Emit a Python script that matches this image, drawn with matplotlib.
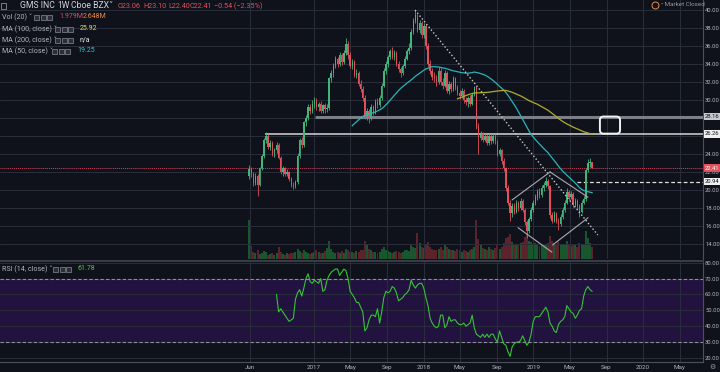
import matplotlib
matplotlib.use("Agg")
import matplotlib.pyplot as plt
import matplotlib.dates as mdates
from matplotlib.patches import FancyBboxPatch, Rectangle
from matplotlib.lines import Line2D
import numpy as np
import pandas as pd

plt.rcParams['font.family'] = ['Roboto', 'DejaVu Sans']

W, H = 720, 372
BG = '#0f121b'
GRID = '#2a2e3a'
TXT = '#b2b5be'
UP = '#41b57c'
DN = '#e0505d'

# weekly candles, GMS INC, Cboe BZX
dates = pd.date_range('2016-05-30', periods=164, freq='7D')

opens = [21.5, 22.3, 21.8, 20.8, 21.6, 20.6, 22.4, 23.8, 25.6, 26.0,
         24.8, 25.2, 24.0, 24.4, 25.0, 23.6, 22.0, 22.4, 21.8, 22.0,
         21.2, 20.6, 20.4, 20.9, 23.8, 25.6, 25.0, 27.5, 28.0, 29.2,
         28.8, 29.6, 29.9, 29.2, 29.5, 28.8, 29.4, 29.0, 29.1, 32.4,
         33.0, 33.8, 34.6, 34.0, 35.0, 34.2, 35.2, 36.2, 35.0, 33.8,
         34.2, 32.8, 33.0, 31.8, 31.2, 30.2, 28.2, 28.8, 28.0, 29.2,
         28.6, 29.8, 29.4, 30.2, 31.6, 33.2, 34.0, 34.8, 35.4, 34.8,
         35.2, 34.0, 33.4, 33.0, 33.8, 34.6, 35.4, 35.8, 37.6, 38.8,
         39.4, 37.8, 38.6, 37.2, 38.2, 36.0, 34.0, 33.2, 32.6, 32.4,
         32.0, 33.2, 32.0, 31.6, 33.0, 31.0, 31.8, 31.2, 32.4, 31.4,
         30.8, 30.4, 31.0, 30.0, 29.8, 30.2, 29.6, 30.6, 31.4, 27.0,
         25.8, 26.2, 25.6, 26.0, 25.2, 26.0, 25.4, 26.0, 25.4, 24.0,
         24.4, 23.2, 22.4, 20.2, 18.6, 17.4, 18.2, 17.6, 18.6, 18.0,
         18.8, 17.8, 16.4, 15.4, 16.8, 17.8, 18.6, 19.2, 19.8, 19.4,
         20.2, 20.6, 21.0, 20.4, 17.2, 16.6, 17.4, 16.6, 16.2, 17.0,
         17.8, 18.6, 19.8, 19.2, 19.6, 18.4, 18.8, 18.2, 17.6, 18.6,
         19.0, 22.2, 23.0, 23.06]
highs = [22.8, 22.6, 22.0, 21.9, 21.8, 22.6, 24.0, 25.8, 26.4, 26.2,
         25.5, 25.4, 24.7, 25.3, 25.2, 23.8, 22.7, 22.6, 22.3, 22.1,
         21.4, 20.9, 21.1, 24.1, 25.8, 25.9, 27.7, 28.3, 29.5, 29.6,
         30.0, 30.3, 30.2, 29.8, 29.9, 29.6, 29.7, 29.5, 32.6, 33.3,
         34.1, 34.9, 34.8, 35.3, 35.2, 35.5, 36.9, 36.5, 35.3, 34.5,
         34.4, 33.4, 33.2, 32.2, 31.6, 30.5, 29.1, 29.0, 29.5, 29.4,
         30.1, 30.2, 30.5, 31.9, 33.5, 34.3, 35.0, 35.7, 35.9, 35.5,
         35.4, 34.3, 33.7, 34.0, 34.9, 35.7, 36.3, 37.9, 39.1, 40.0,
         39.6, 38.9, 38.8, 38.5, 38.4, 36.3, 34.4, 33.6, 33.1, 32.8,
         33.7, 33.5, 32.4, 33.3, 33.2, 32.1, 32.0, 32.7, 32.6, 31.7,
         31.1, 31.3, 31.2, 30.3, 30.4, 30.5, 30.8, 31.6, 31.6, 27.4,
         26.5, 26.4, 26.3, 26.2, 26.3, 26.2, 26.2, 26.2, 25.6, 24.7,
         24.6, 23.5, 22.6, 20.5, 18.9, 18.5, 18.5, 18.9, 18.8, 19.1,
         19.0, 18.0, 16.7, 17.0, 18.1, 18.9, 19.5, 20.1, 20.2, 20.5,
         20.9, 21.4, 21.2, 20.6, 17.6, 17.7, 17.6, 16.9, 17.3, 18.1,
         18.9, 20.2, 20.0, 19.9, 19.8, 19.1, 19.0, 18.4, 18.9, 19.3,
         22.4, 23.4, 23.5, 23.10]
lows = [21.2, 21.4, 20.4, 20.5, 19.3, 20.4, 22.2, 23.6, 25.2, 24.6,
        24.4, 23.8, 23.7, 24.1, 23.4, 21.8, 21.6, 21.5, 21.5, 21.0,
        20.3, 20.1, 20.2, 20.7, 23.5, 24.7, 24.8, 27.1, 27.8, 28.4,
        28.6, 29.1, 28.9, 28.8, 28.6, 28.5, 28.6, 28.7, 28.9, 32.0,
        32.6, 33.5, 33.7, 33.8, 33.9, 34.0, 35.0, 34.6, 33.5, 33.4,
        32.5, 32.4, 31.5, 30.9, 29.9, 27.9, 27.8, 27.4, 27.8, 28.3,
        28.4, 29.1, 29.2, 30.0, 31.4, 32.9, 33.7, 34.5, 34.5, 34.4,
        33.8, 33.1, 32.6, 32.8, 33.6, 34.4, 35.1, 35.6, 37.3, 38.5,
        37.5, 37.4, 36.9, 36.9, 35.7, 33.8, 32.9, 32.2, 32.0, 31.6,
        31.8, 31.7, 31.2, 31.4, 30.8, 30.7, 30.9, 31.0, 31.1, 30.5,
        30.1, 30.2, 29.7, 29.4, 29.2, 29.3, 29.4, 30.4, 26.8, 24.0,
        25.5, 25.3, 25.4, 25.0, 25.0, 25.1, 25.2, 25.1, 23.8, 23.8,
        22.9, 22.1, 19.9, 18.3, 16.6, 17.0, 17.3, 17.4, 17.7, 17.8,
        17.5, 16.1, 14.7, 15.2, 16.6, 17.5, 18.3, 18.9, 19.1, 19.2,
        19.9, 20.3, 20.1, 16.9, 16.3, 16.4, 16.3, 15.6, 16.0, 16.8,
        17.6, 18.4, 18.9, 19.0, 18.1, 18.2, 17.9, 17.0, 17.4, 18.4,
        18.8, 22.0, 22.6, 22.40]
closes = [22.3, 21.8, 20.8, 21.6, 20.6, 22.4, 23.8, 25.6, 26.0, 24.8,
          25.2, 24.0, 24.4, 25.0, 23.6, 22.0, 22.4, 21.8, 22.0, 21.2,
          20.6, 20.4, 20.9, 23.8, 25.6, 25.0, 27.5, 28.0, 29.2, 28.8,
          29.6, 29.9, 29.2, 29.5, 28.8, 29.4, 29.0, 29.1, 32.4, 33.0,
          33.8, 34.6, 34.0, 35.0, 34.2, 35.2, 36.2, 35.0, 33.8, 34.2,
          32.8, 33.0, 31.8, 31.2, 30.2, 28.2, 28.8, 28.0, 29.2, 28.6,
          29.8, 29.4, 30.2, 31.6, 33.2, 34.0, 34.8, 35.4, 34.8, 35.2,
          34.0, 33.4, 33.0, 33.8, 34.6, 35.4, 35.8, 37.6, 38.8, 39.4,
          37.8, 38.6, 37.2, 38.2, 36.0, 34.0, 33.2, 32.6, 32.4, 32.0,
          33.2, 32.0, 31.6, 33.0, 31.0, 31.8, 31.2, 32.4, 31.4, 30.8,
          30.4, 31.0, 30.0, 29.8, 30.2, 29.6, 30.6, 31.4, 27.0, 25.8,
          26.2, 25.6, 26.0, 25.2, 26.0, 25.4, 26.0, 25.4, 24.0, 24.4,
          23.2, 22.4, 20.2, 18.6, 17.4, 18.2, 17.6, 18.6, 18.0, 18.8,
          17.8, 16.4, 15.4, 16.8, 17.8, 18.6, 19.2, 19.8, 19.4, 20.2,
          20.6, 21.0, 20.4, 17.2, 16.6, 17.4, 16.6, 16.2, 17.0, 17.8,
          18.6, 19.8, 19.2, 19.6, 18.4, 18.8, 18.2, 17.6, 18.6, 19.0,
          22.2, 23.0, 23.1, 22.41]
# volume, millions of shares
volumes = [6.4, 2.1, 1.2, 0.9, 1.4, 0.8, 1.0, 1.3, 1.1, 0.7, 0.8, 0.9, 0.6, 1.0, 1.9, 1.2, 0.8, 0.7, 0.9, 0.8,
           1.0, 0.9, 1.1, 1.6, 1.3, 1.0, 1.4, 1.2, 0.9, 0.8, 1.0, 1.2, 1.5, 1.1, 0.9, 1.0, 1.3, 1.8, 2.9, 1.6,
           1.2, 1.0, 1.1, 0.9, 1.3, 1.0, 1.6, 1.4, 1.2, 1.1, 1.0, 1.3, 1.2, 1.5, 1.4, 3.0, 2.2, 1.6, 1.4, 1.2,
           1.1, 1.0, 1.2, 1.6, 1.9, 1.4, 1.3, 1.2, 1.0, 1.1, 1.3, 1.2, 1.0, 1.1, 1.4, 1.5, 1.3, 2.4, 2.0, 1.8,
           4.2, 2.6, 2.0, 1.8, 2.2, 2.8, 1.9, 1.7, 1.5, 1.4, 1.6, 1.9, 1.5, 2.4, 2.0, 1.6, 1.4, 1.5, 1.3, 1.6,
           1.4, 1.2, 1.5, 1.3, 1.2, 1.4, 1.6, 1.9, 6.3, 3.2, 2.2, 1.8, 1.7, 1.5, 1.9, 1.6, 1.4, 1.8, 2.4, 1.7,
           2.0, 2.6, 3.4, 3.6, 4.1, 2.8, 2.5, 2.4, 2.2, 2.6, 2.8, 3.6, 4.0, 2.9, 2.7, 2.4, 2.6, 2.3, 2.1, 2.5,
           2.2, 2.4, 2.6, 3.8, 3.0, 2.6, 2.3, 2.8, 2.4, 2.2, 2.5, 2.9, 2.3, 2.1, 2.4, 2.2, 2.0, 2.6, 2.3, 2.2,
           4.6, 3.4, 2.6, 1.979]
# RSI(14) from week 13 onward
rsi_vals = [60, 49, 51, 49, 47, 45, 43, 44, 45, 57, 61, 63, 59, 64, 70, 73, 68, 67, 69, 68,
            67, 70, 62, 63, 69, 72, 74, 75, 76, 76, 72, 74, 76, 75, 70, 62, 60, 58, 55, 55,
            52, 49, 37, 39, 44, 47, 47, 46, 51, 42, 49, 58, 62, 61, 62, 65, 64, 61, 56, 57,
            58, 60, 61, 63, 69, 66, 64, 66, 67, 67, 64, 58, 53, 45, 42, 40, 39, 40, 47, 47,
            39, 41, 46, 43, 44, 44, 42, 41, 41, 42, 40, 41, 42, 47, 39, 35, 34, 33, 35, 33,
            35, 33, 35, 35, 32, 30, 37, 33, 29, 28, 24, 21, 27, 29, 30, 30, 31, 34, 31, 28,
            30, 35, 43, 46, 46, 46, 48, 50, 52, 49, 42, 40, 37, 36, 41, 43, 44, 46, 53, 51,
            49, 48, 45, 47, 50, 51, 59, 63, 65, 63, 62]

# drawings on the chart
trend_line = [('2017-12-03', 40.0), ('2019-08-03', 15.0)]
diamond_lines = [[('2018-10-22', 18.9), ('2019-02-25', 22.0)],
                 [('2019-02-25', 22.0), ('2019-07-01', 19.2)],
                 [('2018-11-11', 15.8), ('2019-03-03', 13.1)],
                 [('2019-03-06', 13.9), ('2019-07-01', 16.9)]]
level_grey = ('2017-01-04', 28.16)
level_white = ('2016-07-22', 26.26)
level_dashed = ('2019-05-25', 20.94)
last_price = 22.41
box_span = ('2019-08-10', '2019-10-16', 26.26, 28.16)

price_ticks = [14, 16, 18, 20, 22, 24, 30, 32, 34, 36, 38, 40]
rsi_ticks = [20, 30, 40, 50, 60, 70, 80]
tick_dates = ['2016-06-01', '2017-01-01', '2017-05-01', '2017-09-01', '2018-01-01', '2018-05-01',
              '2018-09-01', '2019-01-01', '2019-05-01', '2019-09-01', '2020-01-01', '2020-05-01']
tick_labels = ['Jun', '2017', 'May', 'Sep', '2018', 'May', 'Sep', '2019', 'May', 'Sep', '2020', 'May']

d2n = lambda s: mdates.date2num(pd.Timestamp(s))
x = mdates.date2num(dates)
o = np.array(opens); h = np.array(highs); l = np.array(lows); c = np.array(closes)
ma50 = pd.Series(closes).rolling(50).mean()
ma100 = pd.Series(closes).rolling(100).mean()

fig = plt.figure(figsize=(7.2, 3.72), dpi=100, facecolor=BG)

def fx(px):
    return px / W

def fy(py):
    return 1 - py / H

# volume underlay sits in its own axes behind the price axes
axv = fig.add_axes([0, fy(259), fx(703), 259 / H])
ax = fig.add_axes([0, fy(259), fx(703), 259 / H], sharex=axv)
axr = fig.add_axes([0, fy(362), fx(703), 101 / H])
xl = (d2n('2017-01-01') - 1045, d2n('2017-01-01') + 1294)
tx = [d2n(t) for t in tick_dates]

axv.set_facecolor(BG)
axv.set_ylim(0, 42)
for s in axv.spines.values():
    s.set_visible(False)
axv.set_xticks([]); axv.set_yticks([])
vcol = ['#1c5e30' if cc >= oo else '#66252f' for oo, cc in zip(opens, closes)]
axv.bar(x, volumes, width=6.6, color=vcol, alpha=0.9, zorder=1)

for a in (ax, axr):
    a.set_xlim(*xl)
    a.set_xticks(tx)
    a.grid(True, color=GRID, lw=0.7)
    a.set_axisbelow(True)
    for s in a.spines.values():
        s.set_visible(False)
    a.spines['right'].set_visible(True)
    a.spines['right'].set_color('#4c505c')
    a.yaxis.tick_right()
    a.tick_params(axis='y', length=0, pad=1.5, labelsize=4.2, labelcolor=TXT)

ax.patch.set_visible(False)
axr.set_facecolor(BG)
ax.set_ylim(12.33, 41.11)
ax.set_yticks(price_ticks)
ax.set_yticklabels(['%.2f' % v for v in price_ticks])
# grid rows hidden behind the level tags still get their line
for v in (26, 28):
    ax.axhline(v, color=GRID, lw=0.7, zorder=0)
ax.tick_params(axis='x', length=0, labelbottom=False)

# candles
col = [UP if cc >= oo else DN for oo, cc in zip(opens, closes)]
ax.vlines(x, l, h, colors=col, lw=0.6, zorder=3)
body = np.maximum(np.abs(c - o), 0.12)
ax.bar(x, body, bottom=np.minimum(o, c), width=4.8, color=col, zorder=4)

ax.plot(x, ma50, color='#27b5b8', lw=0.9, zorder=5)
ax.plot(x, ma100, color='#b0ad2a', lw=0.9, zorder=5)

# levels
ax.hlines(level_grey[1], d2n(level_grey[0]), xl[1], color='#7c7f88', lw=2.2, zorder=2)
ax.hlines(level_white[1], d2n(level_white[0]), xl[1], color='#d6d6d6', lw=1.1, zorder=2)
ax.hlines(level_dashed[1], d2n(level_dashed[0]), xl[1], color='#e0e0e0', lw=0.9,
          linestyles=(0, (3, 2)), zorder=2)
ax.axhline(last_price, color='#d2435a', lw=0.7, ls=(0, (1, 1)), zorder=2)

ax.plot([d2n(p[0]) for p in trend_line], [p[1] for p in trend_line],
        color='#c9c9c9', lw=1.0, ls=(0, (1, 1.6)), zorder=6)
for seg in diamond_lines:
    ax.plot([d2n(p[0]) for p in seg], [p[1] for p in seg], color='#a9aab0', lw=0.8, zorder=6)

bx0, bx1 = d2n(box_span[0]), d2n(box_span[1])
ax.add_patch(FancyBboxPatch((bx0, box_span[2]), bx1 - bx0, box_span[3] - box_span[2],
                            boxstyle='round,pad=0,rounding_size=12', mutation_aspect=0.0334,
                            fc='none', ec='#f2f2f2', lw=1.4, zorder=7))

# right axis price tags
tags = [(28.16, '#c8c9cc', '#131722'), (26.26, '#f0f0f0', '#131722'),
        (last_price, '#e0505d', '#ffffff'), (20.94, '#f0f0f0', '#131722')]
for val, fc, tc in tags:
    ax.text(1.003, val, '%.2f' % val, transform=ax.get_yaxis_transform(), fontsize=4.2,
            color=tc, va='center', ha='left', clip_on=False, zorder=10,
            bbox=dict(boxstyle='square,pad=0.25', fc=fc, ec='none'))

# RSI panel
axr.set_ylim(17.47, 81.07)
axr.set_yticks(rsi_ticks)
axr.set_yticklabels(['%.2f' % v for v in rsi_ticks])
axr.axhspan(30, 70, color='#22123f', zorder=0)
axr.axhline(70, color='#8d909a', lw=0.8, ls=(0, (3, 2)), zorder=2)
axr.axhline(30, color='#8d909a', lw=0.8, ls=(0, (3, 2)), zorder=2)
axr.plot(x[13:], rsi_vals, color='#38c238', lw=0.8, zorder=3)
axr.set_xticklabels(tick_labels)
axr.tick_params(axis='x', length=0, pad=2, labelsize=4.5, labelcolor=TXT)
axr.spines['top'].set_visible(True)
axr.spines['top'].set_color('#3a3e4a')
axr.spines['top'].set_linewidth(1.4)
axr.spines['bottom'].set_visible(True)
axr.spines['bottom'].set_color('#4c505c')

# legends
def icons(x0, yc):
    for k in range(3):
        fig.add_artist(Rectangle((fx(x0 + k * 6.5), fy(yc + 2.5)), fx(5), 5 / H, fc='#2a2e39',
                                 ec='#8a8d96', lw=0.5))

fig.text(fx(20), fy(6), 'GMS INC', fontsize=6.2, color='#d1d4dc', va='center')
fig.text(fx(57), fy(6), '1W', fontsize=6.2, color='#d1d4dc', va='center')
fig.text(fx(71), fy(6), 'Cboe BZX\u02c5', fontsize=6.2, color='#d1d4dc', va='center')
for px_, s in [(118, 'O23.06'), (143, 'H23.10'), (168, 'L22.40'), (190, 'C22.41'), (214, '\u22120.54 (\u22122.35%)')]:
    fig.text(fx(px_), fy(6), s, fontsize=5.2, color=DN, va='center')
fig.add_artist(Rectangle((fx(1), fy(9)), fx(5), 6 / H, fc='none', ec='#8a8d96', lw=0.6))

rows = [(17, 'Vol (20) \u02c5', 34, [(59, '1.979M', DN), (83, '2.648M', '#ef8a3c')]),
        (29, 'MA (100, close) \u02c5', 55, [(80, '25.92', '#e3e04a')]),
        (40, 'MA (200, close) \u02c5', 55, [(80, 'n/a', '#e8e8e8')]),
        (51, 'MA (50, close) \u02c5', 52, [(77, '19.25', '#2fc8c8')]),
        (269, 'RSI (14, close) \u02c5', 53, [(78, '61.78', '#3fd23f')])]
for yc, lab, ix, vals in rows:
    fig.text(fx(2), fy(yc), lab, fontsize=5.1, color=TXT, va='center')
    icons(ix, yc)
    for px_, s, cc in vals:
        fig.text(fx(px_), fy(yc), s, fontsize=5.0, color=cc, va='center')

fig.add_artist(Line2D([fx(655)], [fy(5)], marker='o', ms=5, mfc='none', mec='#f0893c', mew=0.7))
fig.text(fx(661), fy(5), '\u2022 Market Closed', fontsize=4.5, color='#9598a1', va='center')
fig.text(fx(712), fy(367), '\u2699', fontsize=5, color='#9598a1', va='center', ha='center')

fig.savefig('out.png', dpi=100, facecolor=BG)
